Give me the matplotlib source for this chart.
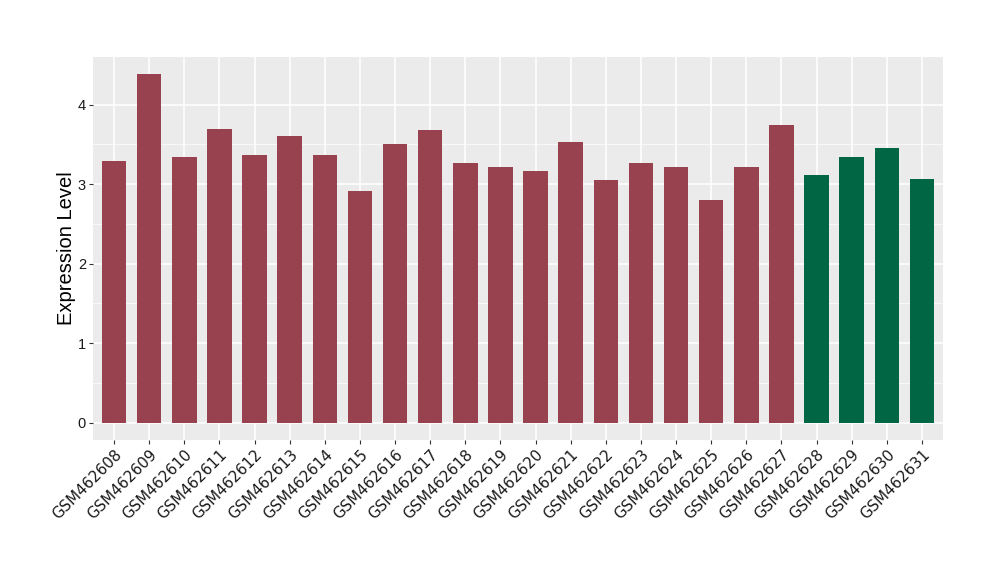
import numpy as np
import matplotlib.pyplot as plt

samples = ['GSM462608', 'GSM462609', 'GSM462610', 'GSM462611', 'GSM462612', 'GSM462613',
           'GSM462614', 'GSM462615', 'GSM462616', 'GSM462617', 'GSM462618', 'GSM462619',
           'GSM462620', 'GSM462621', 'GSM462622', 'GSM462623', 'GSM462624', 'GSM462625',
           'GSM462626', 'GSM462627', 'GSM462628', 'GSM462629', 'GSM462630', 'GSM462631']
values = [3.29, 4.38, 3.34, 3.69, 3.36, 3.61, 3.36, 2.91, 3.50, 3.68, 3.26, 3.21,
          3.17, 3.53, 3.05, 3.26, 3.22, 2.80, 3.21, 3.74, 3.11, 3.34, 3.46, 3.06]
groups = ['a'] * 20 + ['b'] * 4
group_colors = {'a': '#99424F', 'b': '#006644'}

fig = plt.figure(figsize=(10, 5.8), dpi=100)
ax = fig.add_axes([0.093, 0.2414, 0.85, 0.6603])
ax.set_facecolor('#EBEBEB')

x = np.arange(len(samples))
ax.bar(x, values, width=0.7, color=[group_colors[g] for g in groups], zorder=3)

ymax = max(values)
ax.set_ylim(-0.05 * ymax, 1.05 * ymax)
ax.set_xlim(-0.6, len(samples) - 0.4)

ax.set_yticks([0, 1, 2, 3, 4])
ax.set_yticks([0.5, 1.5, 2.5, 3.5], minor=True)
ax.set_xticks(x)
ax.set_xticklabels(samples, rotation=45, ha='right', rotation_mode='anchor',
                   fontsize=10.8, family='DejaVu Sans')
for lab in ax.get_yticklabels():
    lab.set_fontsize(10.5)
    lab.set_family('Liberation Sans')

ax.grid(True, which='major', color='white', linewidth=1.1, zorder=0)
ax.grid(True, which='minor', axis='y', color='white', linewidth=0.5, zorder=0)
ax.set_axisbelow(True)
ax.tick_params(axis='both', which='major', length=3, color='#333333', labelcolor='#1a1a1a', pad=2)
ax.tick_params(axis='y', which='minor', length=0)
for s in ax.spines.values():
    s.set_visible(False)

ax.set_ylabel('Expression Level', fontsize=14.5, family='Liberation Sans', labelpad=1)

fig.savefig('out.png', dpi=100)
